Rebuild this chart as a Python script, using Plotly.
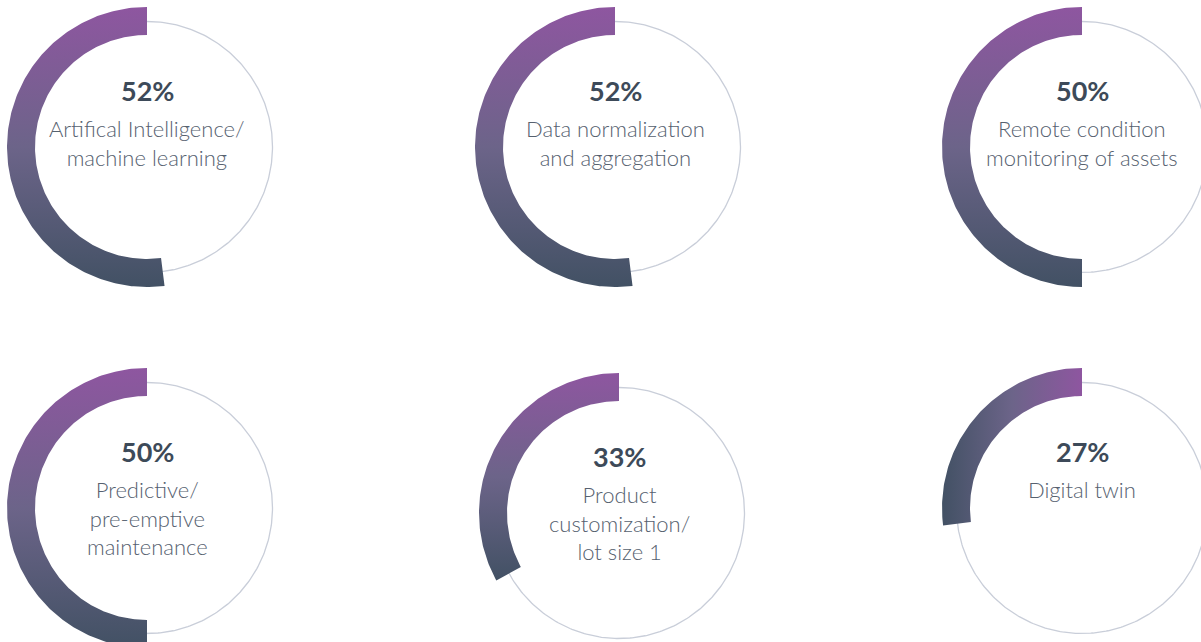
import numpy as np
import plotly.graph_objects as go

# Survey results: share of respondents per technology
percentages = [52, 52, 50, 50, 33, 27]
labels = [
    "Artifical Intelligence/<br>machine learning",
    "Data normalization<br>and aggregation",
    "Remote condition<br>monitoring of assets",
    "Predictive/<br>pre-emptive<br>maintenance",
    "Product<br>customization/<br>lot size 1",
    "Digital twin",
]

# Ring layout (page pixel coordinates, y grows downward)
centers = [(147, 147), (615, 147), (1082, 147), (147, 508), (619, 513), (1082, 508)]
gradient_dir = ["vertical"] * 5 + ["horizontal"]

W, H = 1201, 642
R_TRACK = 125.5
R_IN, R_OUT = 112, 140
PURPLE = "#8e56a0"
MID = "#6c6489"
SLATE = "#425164"
TRACK = "#c9ced9"
TEXT_DARK = "#3d4a59"
TEXT_LIGHT = "#56616f"

fig = go.Figure()
annotations = []

for pct, label, (cx, cy), gdir in zip(percentages, labels, centers, gradient_dir):
    # thin full-circle track
    t = np.linspace(0, 2 * np.pi, 361)
    fig.add_trace(go.Scatter(
        x=cx + R_TRACK * np.sin(t), y=cy - R_TRACK * np.cos(t),
        mode="lines", line=dict(color=TRACK, width=1.3),
        hoverinfo="skip", showlegend=False,
    ))

    # progress arc: counter-clockwise from 12 o'clock
    sweep = pct / 100 * 2 * np.pi
    a = np.linspace(0, sweep, max(int(pct * 4), 20))
    xo = cx - R_OUT * np.sin(a)
    yo = cy - R_OUT * np.cos(a)
    xi = cx - R_IN * np.sin(a[::-1])
    yi = cy - R_IN * np.cos(a[::-1])
    xs = np.concatenate([xo, xi, xo[:1]])
    ys = np.concatenate([yo, yi, yo[:1]])

    if gdir == "vertical":
        grad = dict(type="vertical", start=float(ys.min()), stop=float(ys.max()),
                    colorscale=[[0, PURPLE], [0.5, MID], [1, SLATE]])
    else:
        grad = dict(type="horizontal", start=float(xs.min()), stop=float(xs.max()),
                    colorscale=[[0, SLATE], [0.5, MID], [1, PURPLE]])

    fig.add_trace(go.Scatter(
        x=xs, y=ys, mode="lines", fill="toself",
        line=dict(width=0, color="rgba(0,0,0,0)"),
        fillgradient=grad,
        hoverinfo="skip", showlegend=False,
    ))

    annotations.append(dict(
        x=cx, y=cy - 57, text=f"<b>{pct}%</b>", showarrow=False,
        xanchor="center", yanchor="middle",
        font=dict(family="Lato, Open Sans, sans-serif", size=27, color=TEXT_DARK),
    ))
    annotations.append(dict(
        x=cx, y=cy - 34, text=label, showarrow=False,
        xanchor="center", yanchor="top", align="center",
        font=dict(family="Lato, Open Sans, sans-serif", size=22, color=TEXT_LIGHT, weight=300),
    ))

fig.update_layout(
    width=W, height=H,
    margin=dict(l=0, r=0, t=0, b=0),
    paper_bgcolor="white", plot_bgcolor="white",
    xaxis=dict(range=[0, W], visible=False, fixedrange=True),
    yaxis=dict(range=[H, 0], visible=False, fixedrange=True),
    annotations=annotations,
    showlegend=False,
)

fig.write_html("out.html", config={"displayModeBar": False})
